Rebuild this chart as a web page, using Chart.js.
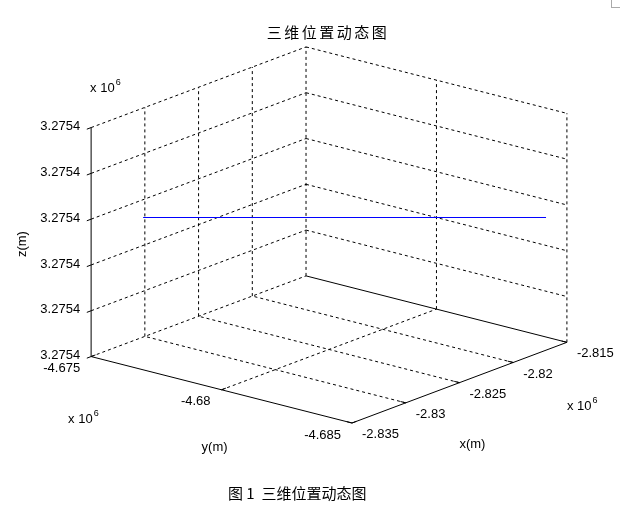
<!DOCTYPE html>
<html>
<head>
<meta charset="utf-8">
<script src="https://cdn.jsdelivr.net/npm/chart.js@4/dist/chart.umd.min.js"></script>
<style>
  html, body { margin: 0; padding: 0; background: #fff; }
  #wrap { position: relative; width: 643px; height: 516px; }
  #c { position: absolute; left: 0; top: 0; }
  #caption { position: absolute; left: 228px; top: 483px; font: 15px "Noto Sans CJK SC", sans-serif; line-height: 20px; white-space: pre; color: #000; }
  #mark { position: absolute; left: 611px; top: 0; width: 8px; height: 7px; border-left: 1px solid #aaa; border-bottom: 1px solid #aaa; }
</style>
</head>
<body>
<div id="wrap">
  <canvas id="c" width="643" height="516"></canvas>
  <div id="caption">图 1  三维位置动态图</div>
  <div id="mark"></div>
</div>
<script>
// ---- data (all values in units of 10^6 m) ----
const xTicks = [-2.835, -2.83, -2.825, -2.82, -2.815];
const yTicks = [-4.675, -4.68, -4.685];
const zTicks = [3.27539, 3.27540, 3.27541, 3.27542, 3.27543, 3.27544];
const trajX = [-2.83016, -2.81500];
const trajY = [-4.67500, -4.68420];
const trajZ = [3.2754161, 3.2754161];
const titleText = '三维位置动态图';
const xLabel = 'x(m)', yLabel = 'y(m)', zLabel = 'z(m)';

// ---- view (MATLAB-like 3-D projection) ----
const AZ = 50.52 * Math.PI / 180;
const EL = 24.53 * Math.PI / 180;
const xMin = Math.min(...xTicks), xMax = Math.max(...xTicks);
const yMin = Math.min(...yTicks), yMax = Math.max(...yTicks);
const zMin = Math.min(...zTicks), zMax = Math.max(...zTicks);

function project(x, y, z) {
  const u = (x - xMin) / (xMax - xMin);
  const v = (y - yMin) / (yMax - yMin);
  const w = (z - zMin) / (zMax - zMin);
  return {
    x: u * Math.cos(AZ) - v * Math.sin(AZ),
    y: Math.sin(EL) * (u * Math.sin(AZ) + v * Math.cos(AZ)) + Math.cos(EL) * w
  };
}

// plot-box scaling of the projected view onto the canvas
const SX = 338, SY = 251.7, OX = 352, OY = 423, W = 643, H = 516;

const datasets = [];
function seg(a, b, dashed, color) {
  datasets.push({
    data: [project(a[0], a[1], a[2]), project(b[0], b[1], b[2])],
    showLine: true, pointRadius: 0, pointHoverRadius: 0, fill: false, tension: 0,
    borderColor: color || '#000', borderWidth: 1,
    borderDash: dashed ? [3, 3] : []
  });
}

// trajectory (on top)
datasets.push({
  data: trajX.map((x, i) => project(x, trajY[i], trajZ[i])),
  showLine: true, pointRadius: 0, pointHoverRadius: 0, fill: false, tension: 0,
  borderColor: '#0000ff', borderWidth: 1
});

// solid axis lines
seg([xMin, yMax, zMin], [xMin, yMax, zMax], false);
seg([xMin, yMax, zMin], [xMin, yMin, zMin], false);
seg([xMin, yMin, zMin], [xMax, yMin, zMin], false);
seg([xMax, yMax, zMin], [xMax, yMin, zMin], false);

// tick marks
const dx = xMax - xMin, dy = yMax - yMin;
zTicks.forEach(z => seg([xMin, yMax, z], [xMin - 0.02 * dx, yMax, z], false));
yTicks.forEach(y => seg([xMin, y, zMin], [xMin + 0.02 * dx, y, zMin], false));
xTicks.forEach(x => seg([x, yMin, zMin], [x, yMin + 0.02 * dy, zMin], false));

// dashed grid: floor
xTicks.filter(x => x !== xMin && x !== xMax).forEach(x => seg([x, yMin, zMin], [x, yMax, zMin], true));
yTicks.filter(y => y !== yMin).forEach(y => seg([xMin, y, zMin], [xMax, y, zMin], true));
// back wall (y = yMax)
xTicks.filter(x => x !== xMin).forEach(x => seg([x, yMax, zMin], [x, yMax, zMax], true));
zTicks.filter(z => z !== zMin).forEach(z => seg([xMin, yMax, z], [xMax, yMax, z], true));
// side wall (x = xMax)
yTicks.filter(y => y !== yMax).forEach(y => seg([xMax, y, zMin], [xMax, y, zMax], true));
zTicks.filter(z => z !== zMin).forEach(z => seg([xMax, yMax, z], [xMax, yMin, z], true));

const FONT = '13px "Liberation Sans", Arial, sans-serif';

const textPlugin = {
  id: 'axisText',
  afterDraw(chart) {
    const ctx = chart.ctx;
    const sx = chart.scales.x, sy = chart.scales.y;
    const P = (x, y, z) => { const p = project(x, y, z); return [sx.getPixelForValue(p.x), sy.getPixelForValue(p.y)]; };
    ctx.save();
    ctx.fillStyle = '#000';
    ctx.font = FONT;

    // z tick labels
    ctx.textAlign = 'right'; ctx.textBaseline = 'middle';
    zTicks.forEach(z => { const [px, py] = P(xMin, yMax, z); ctx.fillText(z.toFixed(4), px - 11, py - 1); });
    // y tick labels
    yTicks.forEach(y => { const [px, py] = P(xMin, y, zMin); ctx.fillText(String(y), px - 11, py + 12); });
    // x tick labels
    ctx.textAlign = 'left';
    xTicks.forEach(x => { const [px, py] = P(x, yMin, zMin); ctx.fillText(String(x), px + 10, py + 11.5); });

    // exponent labels
    function expo(px, py) {
      ctx.font = FONT; ctx.textAlign = 'left'; ctx.textBaseline = 'middle';
      ctx.fillText('x 10', px, py);
      const w = ctx.measureText('x 10').width;
      ctx.font = '9px "Liberation Sans", Arial, sans-serif';
      ctx.fillText('6', px + w + 1, py - 6);
      ctx.font = FONT;
    }
    { const [px, py] = P(xMin, yMax, zMax); expo(px - 1, py - 39); }
    { const [px, py] = P(xMin, yMax, zMin); expo(px - 23, py + 63); }
    { const [px, py] = P(xMax, yMin, zMin); expo(px, py + 64); }

    // axis labels
    ctx.textAlign = 'center'; ctx.textBaseline = 'middle';
    { const [px, py] = P(xMin, (yMin + yMax) / 2, zMin); ctx.fillText(yLabel, px - 7, py + 58); }
    { const [px, py] = P((xMin + xMax) / 2, yMin, zMin); ctx.fillText(xLabel, px + 13, py + 62); }
    { const [px, py] = P(xMin, yMax, (zMin + zMax) / 2);
      ctx.save(); ctx.translate(px - 69, py + 2); ctx.rotate(-Math.PI / 2); ctx.fillText(zLabel, 0, 0); ctx.restore(); }

    // title
    ctx.font = '15px "Noto Sans CJK SC", sans-serif';
    ctx.letterSpacing = '2.5px';
    ctx.textAlign = 'center'; ctx.textBaseline = 'middle';
    ctx.fillText(titleText, 328, 32);
    ctx.restore();
  }
};

new Chart(document.getElementById('c'), {
  type: 'scatter',
  data: { datasets },
  options: {
    responsive: false,
    animation: false,
    devicePixelRatio: 1,
    layout: { padding: 0 },
    plugins: { legend: { display: false }, tooltip: { enabled: false }, title: { display: false } },
    events: [],
    scales: {
      x: { type: 'linear', display: false, min: -OX / SX, max: (W - OX) / SX },
      y: { type: 'linear', display: false, min: -(H - OY) / SY, max: OY / SY }
    }
  },
  plugins: [textPlugin]
});
</script>
</body>
</html>
